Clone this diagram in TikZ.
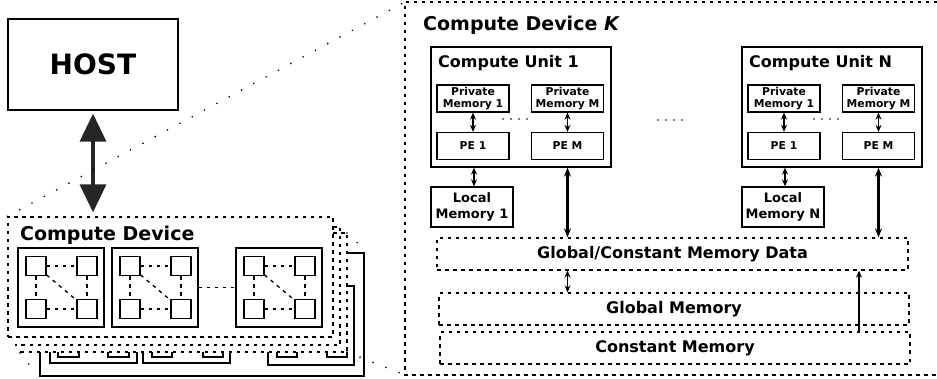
\documentclass[tikz,border=0pt]{standalone}
\usepackage{fontspec}
\setmainfont{DejaVu Sans}
\usetikzlibrary{arrows.meta}

\tikzset{
  blk/.style={draw, line width=1.3pt, inner sep=0pt, font=\bfseries},
  small/.style={blk, minimum width=72, minimum height=27, align=center, font=\fontsize{10.8}{12}\selectfont\bfseries},
  dbox/.style={draw, line width=1.3pt, dash pattern=on 3.5pt off 4.5pt, inner sep=0pt, font=\fontsize{16}{19}\selectfont\bfseries},
  dline/.style={line width=1.3pt, dash pattern=on 3.5pt off 4.5pt},
  sq/.style={draw, line width=1.3pt, minimum width=20, minimum height=19, inner sep=0pt},
  bus/.style={line width=1.3pt},
  zoomline/.style={line width=1.8pt, dash pattern=on 0pt off 14pt, line cap=round},
  dots/.style={line width=1.6pt, dash pattern=on 0pt off 8pt, line cap=round},
  thin/.style={line width=1.4pt, <->},
  fat/.style={line width=2.2pt, {Stealth[length=9pt,width=7pt]}-{Stealth[length=9pt,width=7pt]}},
  ttl/.style={anchor=base west, inner sep=0pt, font=\fontsize{19}{22}\selectfont\bfseries},
}

\begin{document}
\begin{tikzpicture}[x=1pt,y=-1pt,>={Stealth[length=7pt,width=6pt]}]
\useasboundingbox (0,0) rectangle (937,379);

% host
\node[blk, minimum width=170, minimum height=91, font=\fontsize{28}{32}\selectfont\bfseries] (host) at (93,64.5) {HOST};

% stacked copies of the device
\coordinate (s2) at (340,345);
\coordinate (s3) at (347,352);
\draw[dline] (333,233) -- (s3 |- 0,233) -- (s3) -- (20,352);
\draw[dline] (333,227) -- (s2 |- 0,227) -- (s2) -- (15,345);

% small compute device
\node[dbox, minimum width=325, minimum height=120] (dev) at (170.5,277) {};
\node[ttl] (devt) at (20,241) {Compute Device};
\draw[line width=3.5pt, black!85, {Triangle[width=26pt,length=28pt]}-{Triangle[width=26pt,length=28pt]}]
  ([yshift=-3pt]host.south) -- ([yshift=4pt]host.south |- dev.north);

\foreach \l/\n in {18/a,112/b,236/c}{
  \node[blk, minimum width=86, minimum height=79] (cu\n) at (\l+43,287.5) {};
  \node[sq] (\n1) at (\l+18,266) {};
  \node[sq] (\n2) at (\l+69,266) {};
  \node[sq] (\n3) at (\l+18,309) {};
  \node[sq] (\n4) at (\l+69,309) {};
  \draw[dline] (\n1) -- (\n2);
  \draw[dline] (\n3) -- (\n4);
  \draw[dline] (\n1) -- (\n3);
  \draw[dline] (\n2) -- (\n4);
  \draw[dline] (\n1) -- (\n4);
}
\draw[dline] (cub) -- (cuc);

% wiring under the stack
\draw[bus] (347,253) -- (364,253) -- (364,376) -- (40,376) -- (40,352);
\draw[bus] (346,286) -- (354,286) -- (354,365) -- (268,365) -- (268,352);
\draw[bus] (50,352) -- (50,363) -- (137,363) -- (137,352);
\draw[bus] (143,352) -- (143,363) -- (230,363) -- (230,352);
\draw[bus] (58,352) -- (58,357) -- (79,357) -- (79,352);
\draw[bus] (108,352) -- (108,357) -- (129,357) -- (129,352);
\draw[bus] (152,352) -- (152,357) -- (172,357) -- (172,352);
\draw[bus] (203,352) -- (203,357) -- (223,357) -- (223,352);
\draw[bus] (277,352) -- (277,357) -- (297,357) -- (297,352);
\draw[bus] (327,352) -- (327,357) -- (347,357) -- (347,352);

% zoomed compute device
\coordinate (knw) at (405,2);
\coordinate (ksw) at (405,375);
\draw[dline] (937,2) -- (knw) -- (ksw) -- (937,375);
\node[ttl] (kt) at (423,31) {Compute Device \textit{K}};
\draw[zoomline] (dev.north west) -- (knw);
\draw[zoomline] (s3) -- (ksw);
\draw[zoomline] (20,353) -- ++(16,20);
\draw[zoomline] (s3 |- 0,233) -- ++(19,18);

% memories
\node[dbox, minimum width=471, minimum height=32] (gdata) at (672.5,254) {Global/Constant Memory Data};
\node[dbox, minimum width=470, minimum height=32] (gmem) at (674,309) {Global Memory};
\node[dbox, minimum width=470, minimum height=32] (cmem) at (675,348) {Constant Memory};

\foreach \idx/\sh in {1/0,N/311}{
\begin{scope}[xshift=\sh]
  \node[blk, minimum width=180, minimum height=120] (cu\idx) at (521,107) {};
  \node[anchor=base west, inner sep=0pt, font=\fontsize{16}{19}\selectfont\bfseries] (cu\idx t) at (438,68) {Compute Unit \idx};
  \node[small] (pm\idx-1) at (473,98.5) {Private\\Memory 1};
  \node[small] (pm\idx-m) at (567.5,98.5) {Private\\Memory M};
  \node[small] (pe\idx-1) at (473,146) {PE 1};
  \node[small] (pe\idx-m) at (567.5,146) {PE M};
  \draw[thin] (pm\idx-1) -- (pe\idx-1);
  \draw[thin] (pm\idx-m) -- (pe\idx-m);
  \draw[dots] (503,119) -- (527,119);
  \node[blk, minimum width=82, minimum height=40, align=center, font=\fontsize{13}{16}\selectfont\bfseries] (lm\idx) at (472,207) {Local\\Memory \idx};
  \draw[thin] ([xshift=2pt]lm\idx.north |- cu\idx.south) -- ([xshift=2pt]lm\idx.north);
  \draw[fat] (pe\idx-m |- cu\idx.south) -- (pe\idx-m |- gdata.north);
\end{scope}
}
\draw[dots] (658,120) -- (682,120);
\draw[thin] (pe1-m |- gdata.south) -- (pe1-m |- gmem.north);
\draw[line width=1.6pt, ->] (cmem.north -| 859,0) -- (gdata.south -| 859,0);
\end{tikzpicture}
\end{document}
